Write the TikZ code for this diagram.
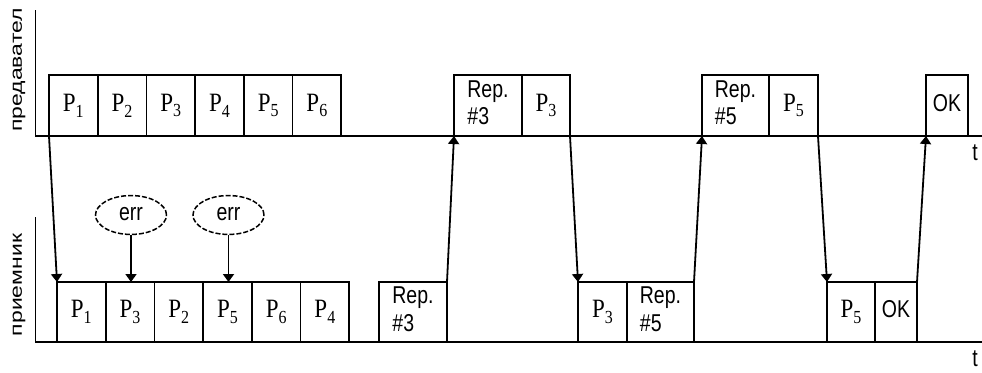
\documentclass[tikz,border=0pt]{standalone}
\usepackage{fontspec}
\setmainfont{Liberation Serif}
\setsansfont{Liberation Sans}
\usepackage{graphicx}
\usetikzlibrary{arrows.meta,shapes.geometric}

% packet label: P with a lowered index
\newcommand{\pkt}[1]{\scalebox{1}[1.15]{\fontsize{23}{23}\selectfont P\raisebox{-5pt}{\fontsize{16}{16}\selectfont #1}}}
% tall sans label, one or more lines
\newcommand{\lbl}[1]{\scalebox{1}[1.25]{\sffamily\fontsize{19.5}{22}\selectfont\begin{tabular}{@{}l@{}}#1\end{tabular}}}
% side label, written along the axis
\newcommand{\side}[1]{\scalebox{1.35}[1]{\sffamily\fontsize{17}{17}\selectfont #1}}

\tikzset{
  frame/.style={draw, line width=1.8pt, inner sep=0pt, outer sep=0pt, anchor=north west},
  tbox/.style={frame, minimum height=61pt},
  bbox/.style={frame, minimum height=60pt},
  conn/.style={line width=1.8pt, -{Triangle[width=11pt,length=8pt]}},
  errnode/.style={draw, ellipse, line width=1.5pt, dash pattern=on 5pt off 2pt,
    minimum width=71pt, minimum height=35pt, inner sep=0pt},
  axis/.style={line width=1.8pt}
}

\begin{document}
\begin{tikzpicture}[x=1pt,y=-1pt]
\useasboundingbox (0,0) rectangle (982,372);

% time axes of sender and receiver
\coordinate (ttop) at (35.5,10);
\coordinate (torg) at (35.5,136);
\coordinate (tend) at (982,136);
\coordinate (btop) at (35.5,217);
\coordinate (borg) at (35.5,342);
\coordinate (bend) at (982,342);
\draw[axis] (ttop) -- (torg) -- (tend);
\draw[axis] (btop) -- (borg) -- (bend);

\node[rotate=90] (lsend) at (19,70) {\side{предавател}};
\node[rotate=90] (lrecv) at (19,285) {\side{приемник}};
\node (tlab1) at (975,155) {\lbl{t}};
\node (tlab2) at (975,361) {\lbl{t}};

% sender frames
\node[tbox, minimum width=48.7pt] (s1) at (49,75) {\pkt{1}};
\node[tbox, minimum width=48.7pt] (s2) at (97.7,75) {\pkt{2}};
\node[tbox, minimum width=48.7pt] (s3) at (146.4,75) {\pkt{3}};
\node[tbox, minimum width=48.7pt] (s4) at (195.1,75) {\pkt{4}};
\node[tbox, minimum width=48.7pt] (s5) at (243.8,75) {\pkt{5}};
\node[tbox, minimum width=48.7pt] (s6) at (292.5,75) {\pkt{6}};
\node[tbox, minimum width=68pt] (srep3) at (454,75) {\lbl{Rep.\\\#3}};
\node[tbox, minimum width=48pt] (sp3) at (522,75) {\pkt{3}};
\node[tbox, minimum width=67pt] (srep5) at (702,75) {\lbl{Rep.\\\#5}};
\node[tbox, minimum width=49pt] (sp5) at (769,75) {\pkt{5}};
\node[tbox, minimum width=42pt] (sok) at (926,75) {\lbl{OK}};

% receiver frames
\node[bbox, minimum width=48.7pt] (r1) at (57,282) {\pkt{1}};
\node[bbox, minimum width=48.7pt] (r2) at (105.7,282) {\pkt{3}};
\node[bbox, minimum width=48.7pt] (r3) at (154.4,282) {\pkt{2}};
\node[bbox, minimum width=48.7pt] (r4) at (203.1,282) {\pkt{5}};
\node[bbox, minimum width=48.7pt] (r5) at (251.8,282) {\pkt{6}};
\node[bbox, minimum width=48.7pt] (r6) at (300.5,282) {\pkt{4}};
\node[bbox, minimum width=68pt] (rrep3) at (379,282) {\lbl{Rep.\\\#3}};
\node[bbox, minimum width=49pt] (rp3) at (578,282) {\pkt{3}};
\node[bbox, minimum width=67pt] (rrep5) at (627,282) {\lbl{Rep.\\\#5}};
\node[bbox, minimum width=48pt] (rp5) at (827,282) {\pkt{5}};
\node[bbox, minimum width=42pt] (rok) at (875,282) {\lbl{OK}};

% error markers
\node[errnode] (e1) at (131,215) {\lbl{err}};
\node[errnode] (e2) at (228.5,215) {\lbl{err}};
\draw[conn] (e1.south) -- (e1.south |- r2.north);
\draw[conn] (e2.south) -- (e2.south |- r4.north);

% transfers between sender and receiver
\draw[conn] (s1.south west) -- (r1.north west);
\draw[conn] (rrep3.north east) -- (srep3.south west);
\draw[conn] (sp3.south east) -- (rp3.north west);
\draw[conn] (rrep5.north east) -- (srep5.south west);
\draw[conn] (sp5.south east) -- (rp5.north west);
\draw[conn] (rok.north east) -- (sok.south west);
\end{tikzpicture}
\end{document}
